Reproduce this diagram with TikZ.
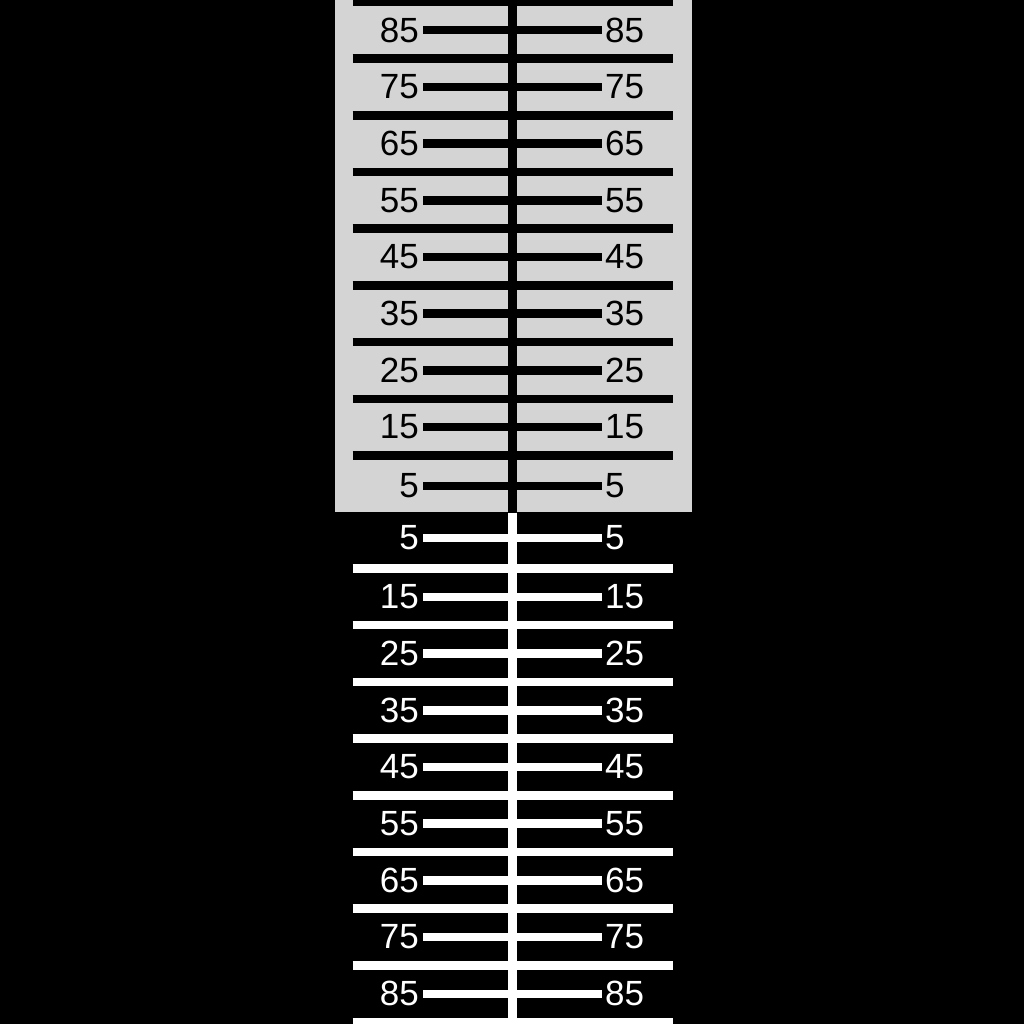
\documentclass[tikz,border=0pt]{standalone}
\usepackage{fontspec}
\setmainfont{Liberation Sans}
\begin{document}
\begin{tikzpicture}[x=1pt,y=-1pt,
  longbar/.style={line width=8.5pt},
  tickbar/.style={line width=8.5pt},
  lbl/.style={inner sep=0pt,font=\fontsize{35}{35}\selectfont}]
\useasboundingbox (0,0) rectangle (1024,1024);
\fill[black] (0,0) rectangle (1024,1024);
\fill[black!17] (335,0) rectangle (691.5,512);
% centre lines
\draw[line width=9pt,black] (512,0) -- (512,512);
\draw[line width=9pt,white] (512,512.5) -- (512,1024);
% long bars
\foreach \k in {0,...,8}{
  \draw[longbar,black] (352.7,{455.5-56.7*\k}) -- (673,{455.5-56.7*\k});
  \draw[longbar,white] (352.7,{568.5+56.7*\k}) -- (673,{568.5+56.7*\k});
}
% ticks and labels
\foreach \v [count=\i from 0] in {5,15,25,35,45,55,65,75,85}{
  \pgfmathsetmacro{\dy}{\i==0 ? 26 : 84.9+56.7*(\i-1)}
  \pgfmathsetmacro{\yu}{512-\dy}
  \pgfmathsetmacro{\yl}{512+\dy}
  \draw[tickbar,black] (423.3,\yu) -- (601.7,\yu);
  \node[lbl,anchor=east,text=black] (ul\i) at (419,\yu) {\v};
  \node[lbl,anchor=west,text=black] (ur\i) at (605,\yu) {\v};
  \draw[tickbar,white] (423.3,\yl) -- (601.7,\yl);
  \node[lbl,anchor=east,text=white] (ll\i) at (419,\yl) {\v};
  \node[lbl,anchor=west,text=white] (lr\i) at (605,\yl) {\v};
}
\end{tikzpicture}
\end{document}
